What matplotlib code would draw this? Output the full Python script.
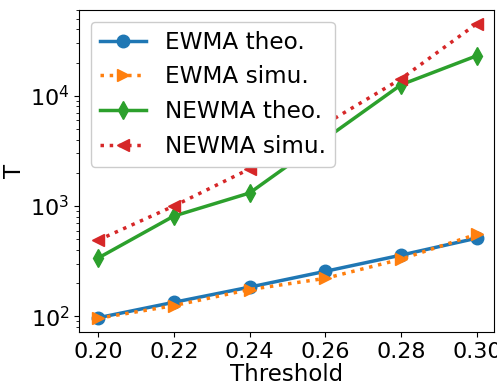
import numpy as np
import matplotlib
matplotlib.use('Agg')
import matplotlib.pyplot as plt

# thresholds and average run lengths
thresholds = [0.20, 0.22, 0.24, 0.26, 0.28, 0.30]
ewma_theo = [97, 134, 184, 256, 359, 512]
ewma_simu = [96, 125, 175, 221, 330, 556]
newma_theo = [337, 811, 1313, 4070, 12600, 23100]
newma_simu = [490, 1000, 2170, 5560, 14260, 45200]

plt.figure(figsize=(4.97, 3.83), dpi=100)
plt.plot(thresholds, ewma_theo, '-o', color='#1f77b4', lw=2.5, ms=9, label='EWMA theo.')
plt.plot(thresholds, ewma_simu, ':>', color='#ff7f0e', lw=2.5, ms=9, label='EWMA simu.')
plt.plot(thresholds, newma_theo, '-d', color='#2ca02c', lw=2.5, ms=9, label='NEWMA theo.')
plt.plot(thresholds, newma_simu, ':<', color='#d62728', lw=2.5, ms=9, label='NEWMA simu.')
plt.yscale('log')
plt.ylim(72, 60000)
plt.xlim(0.195, 0.3045)
plt.xticks(thresholds, ['%.2f' % t for t in thresholds], fontsize=16)
plt.yticks(fontsize=16)
plt.xlabel('Threshold', fontsize=16.5, labelpad=1)
plt.ylabel('T', fontsize=16.5)
plt.gca().yaxis.set_label_coords(-0.128, 0.5)
plt.legend(loc='upper left', fontsize=16.7, framealpha=1)
plt.subplots_adjust(left=0.159, right=0.994, top=0.974, bottom=0.133)
plt.savefig('out.png', dpi=100)
